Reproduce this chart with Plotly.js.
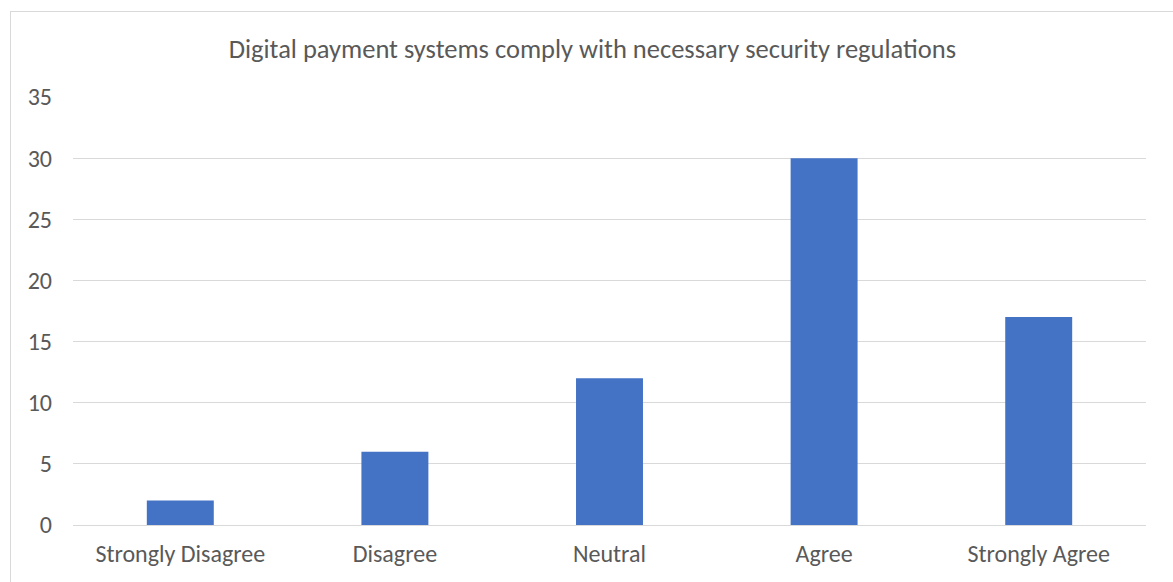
<!DOCTYPE html>
<html>
<head>
<meta charset="utf-8">
<script src="https://cdn.plot.ly/plotly-3.0.1.min.js"></script>
<style>
  html, body { margin: 0; padding: 0; background: #ffffff; overflow: hidden; }
  #frame { position: absolute; left: 10px; top: 11px; width: 1200px; height: 600px; border: 1px solid #d9d9d9; box-sizing: border-box; pointer-events: none; z-index: 5; }
  #chart { position: absolute; left: 0; top: 0; width: 1173px; height: 582px; }
</style>
</head>
<body>
<div id="chart"></div>
<div id="frame"></div>
<script>
const categories = ["Strongly Disagree", "Disagree", "Neutral", "Agree", "Strongly Agree"];
const counts = [2, 6, 12, 30, 17];
const titleText = "Digital payment systems comply with necessary security regulations";

const fontFam = "Carlito, Calibri, 'Open Sans', 'Liberation Sans', sans-serif";

Plotly.newPlot("chart", [{
  type: "bar",
  x: categories,
  y: counts,
  marker: { color: "#4472c4" },
  hoverinfo: "x+y"
}], {
  width: 1173,
  height: 582,
  paper_bgcolor: "rgba(0,0,0,0)",
  plot_bgcolor: "#ffffff",
  margin: { l: 73, r: 27, t: 97, b: 57 },
  bargap: 0.688,
  showlegend: false,
  title: {
    text: titleText,
    x: 0.505, xref: "container", xanchor: "center",
    y: 48, yref: "container", yanchor: "middle",
    font: { family: fontFam, size: 26.5, color: "#595959" }
  },
  font: { family: fontFam, color: "#595959" },
  xaxis: {
    type: "category",
    showgrid: false,
    showline: false,
    zeroline: false,
    ticks: "",
    tickfont: { family: fontFam, size: 24, color: "#595959" },
    ticklabelstandoff: 12
  },
  yaxis: {
    range: [0, 35],
    dtick: 5,
    tick0: 0,
    showgrid: true,
    gridcolor: "#d9d9d9",
    gridwidth: 1,
    zeroline: true,
    zerolinecolor: "#d9d9d9",
    zerolinewidth: 1,
    showline: false,
    ticks: "",
    tickfont: { family: fontFam, size: 24, color: "#595959" },
    ticklabelstandoff: 20
  }
}, { displayModeBar: false, staticPlot: true });
</script>
</body>
</html>
